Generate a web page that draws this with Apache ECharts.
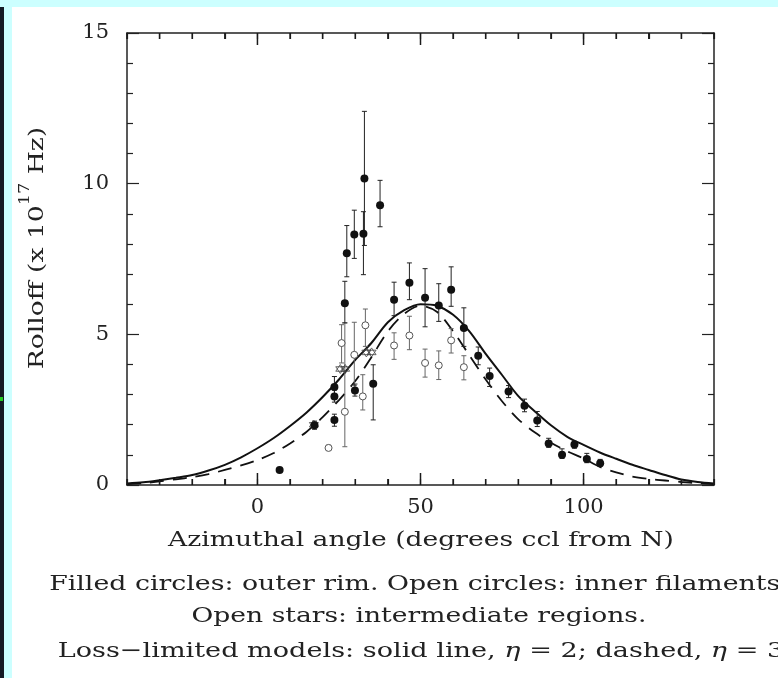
<!DOCTYPE html>
<html><head><meta charset="utf-8">
<script src="https://cdn.jsdelivr.net/npm/echarts@6/dist/echarts.min.js"></script>
<style>html,body{margin:0;padding:0;background:#fff}#c{width:778px;height:678px}</style>
</head><body><div id="c"></div>
<script>
// ---------- data ----------
const xMajorTicks = [0, 50, 100];
const xMinorTicks = [-40,-30,-20,-10,0,10,20,30,40,50,60,70,80,90,100,110,120,130,140];
const yTickLabels = [0, 5, 10, 15];

const modelX  = [-40,-35,-30,-25,-20,-15,-10,-5,0,5,10,15,20,25,30,35,40,45,50,55,60,65,70,75,80,85,90,95,100,105,110,115,120,125,130,135,140];
const solidY  = [0.05,0.09,0.16,0.24,0.33,0.48,0.67,0.92,1.22,1.56,1.96,2.40,2.92,3.50,4.15,4.72,5.40,5.80,6.00,5.95,5.65,5.10,4.35,3.65,2.95,2.45,1.98,1.60,1.33,1.08,0.87,0.67,0.50,0.33,0.18,0.10,0.05];
const dashedY = [0.03,0.06,0.12,0.19,0.26,0.36,0.50,0.65,0.83,1.06,1.38,1.76,2.25,2.82,3.45,4.25,5.10,5.68,5.95,5.75,5.10,4.30,3.50,2.78,2.18,1.75,1.40,1.12,0.88,0.60,0.42,0.28,0.20,0.15,0.10,0.06,0.03];

const filledX  = [6.8,17.5,23.6,23.6,23.6,26.8,27.4,29.7,29.9,32.5,32.8,35.5,37.6,41.9,46.6,51.4,55.6,59.4,63.3,67.7,71.2,77.0,81.9,85.8,89.3,93.4,97.2,101.0,105.1];
const filledY  = [0.50,1.98,2.16,2.94,3.25,6.03,7.69,8.31,3.14,8.34,10.17,3.36,9.28,6.15,6.71,6.21,5.96,6.48,5.21,4.29,3.62,3.10,2.63,2.14,1.38,1.00,1.34,0.86,0.72];
const filledLo = [0.50,1.85,1.95,2.75,2.95,5.38,6.91,7.52,2.95,6.98,7.95,2.16,8.57,5.62,6.15,5.25,5.43,5.93,4.60,3.99,3.27,2.90,2.43,1.94,1.25,0.88,1.22,0.74,0.62];
const filledHi = [0.50,2.12,2.35,3.15,3.60,6.76,8.61,9.12,3.35,9.07,12.40,3.99,10.11,6.73,7.37,7.18,6.68,7.24,5.88,4.58,3.88,3.30,2.85,2.44,1.55,1.20,1.45,1.05,0.85];

const openX  = [21.8,25.8,26.8,29.7,32.3,33.1,41.9,46.6,51.4,55.6,59.4,63.3];
const openY  = [1.23,4.71,2.43,4.32,2.94,5.30,4.63,4.96,4.05,3.97,4.80,3.91];
const openLo = [1.15,4.05,1.27,3.30,2.49,4.60,4.17,4.49,3.58,3.50,4.38,3.49];
const openHi = [1.32,5.32,5.38,5.40,3.66,5.84,5.05,5.60,4.51,4.45,5.19,4.29];

const starX = [17.3,25.4,26.9,33.4,35.0];
const starY = [2.00,3.85,3.85,4.40,4.40];

const xTitle = 'Azimuthal angle (degrees ccl from N)';
const captions = [
  'Filled circles: outer rim. Open circles: inner filaments.',
  'Open stars: intermediate regions.'
];

// ---------- chart ----------
const FONT = 'DejaVu Serif';
const AX = '#222';
const SX = 1.265;
const Y_MIN = 0, Y_MAX = 15;
const zip = (a, b) => a.map((v, i) => [v, b[i]]);
const zip3 = (a, b, c) => a.map((v, i) => [v, b[i], c[i]]);

function errBar(color) {
  return function (params, api) {
    const x = api.value(0), lo = api.value(1), hi = api.value(2);
    if (hi - lo <= 0) return null;
    const a = api.coord([x, hi]), b = api.coord([x, lo]);
    const w = 2.5;
    const st = { stroke: color, lineWidth: 1 };
    return { type: 'group', children: [
      { type: 'line', shape: { x1: a[0], y1: a[1], x2: b[0], y2: b[1] }, style: st },
      { type: 'line', shape: { x1: a[0]-w, y1: a[1], x2: a[0]+w, y2: a[1] }, style: st },
      { type: 'line', shape: { x1: b[0]-w, y1: b[1], x2: b[0]+w, y2: b[1] }, style: st }
    ]};
  };
}

// x tick marks as small rectangular scatter symbols sitting on the bottom and top axes
const tickPts = [];
xMinorTicks.forEach(function (v) {
  const major = xMajorTicks.indexOf(v) >= 0;
  const len = major ? 12 : 6;
  tickPts.push({ value: [v, Y_MIN], symbolSize: [1.5, len], symbolOffset: [0, -len / 2] });
  tickPts.push({ value: [v, Y_MAX], symbolSize: [1.5, len], symbolOffset: [0, len / 2] });
});

const lineSt = { color: AX, width: 1.5 };
function xAx(pos, showLabel) {
  return {
    type: 'value', min: -40, max: 140, interval: 10, position: pos,
    axisLine: { show: true, onZero: false, lineStyle: lineSt },
    axisTick: { show: true, inside: true, length: 6, lineStyle: { color: AX, width: 1.2 } },
    axisLabel: { show: showLabel, fontFamily: FONT, fontSize: 21, color: AX, margin: 12,
      formatter: v => (xMajorTicks.indexOf(v) >= 0 ? String(v) : '') },
    splitLine: { show: false }
  };
}
function yAx(pos, showLabel) {
  return {
    type: 'value', min: Y_MIN, max: Y_MAX, interval: 5, position: pos,
    axisLine: { show: true, onZero: false, lineStyle: lineSt },
    axisTick: { show: true, inside: true, length: 12, lineStyle: { color: AX, width: 1.2 } },
    minorTick: { show: true, splitNumber: 5, length: 6, lineStyle: { color: AX, width: 1.2 } },
    axisLabel: { show: showLabel, fontFamily: FONT, fontSize: 21, color: AX, margin: 18,
      formatter: v => (yTickLabels.indexOf(v) >= 0 ? String(v) : '') },
    splitLine: { show: false }
  };
}

const starPath = 'path://M0,-10L8.66,5L-8.66,5Z M0,10L8.66,-5L-8.66,-5Z';

function caption(y, sx, cx, style) {
  return { type: 'text', x: cx, y: y, scaleX: sx, silent: true,
    style: Object.assign({ align: 'center', verticalAlign: 'middle', fill: AX, font: '21px "DejaVu Serif"' }, style) };
}

const chart = echarts.init(document.getElementById('c'), null, { renderer: 'canvas' });
chart.setOption({
  animation: false,
  backgroundColor: '#fff',
  grid: { left: 127, right: 64, top: 33, bottom: 193 },
  xAxis: [ xAx('bottom', true), xAx('top', false) ],
  yAxis: [ yAx('left', true), yAx('right', false) ],
  series: [
    { type: 'scatter', data: tickPts, symbol: 'rect', clip: false, silent: true,
      itemStyle: { color: '#1a1a1a', opacity: 1 }, z: 6 },
    { type: 'line', data: zip(modelX, solidY), showSymbol: false, smooth: 0.3,
      lineStyle: { color: '#111', width: 2 }, z: 2 },
    { type: 'line', data: zip(modelX, dashedY), showSymbol: false, smooth: 0.3,
      lineStyle: { color: '#111', width: 1.8, type: [14, 9] }, z: 2 },
    { type: 'custom', renderItem: errBar('#666'), data: zip3(openX, openLo, openHi),
      encode: { x: 0, y: [1, 2] }, z: 3 },
    { type: 'custom', renderItem: errBar('#222'), data: zip3(filledX, filledLo, filledHi),
      encode: { x: 0, y: [1, 2] }, z: 3 },
    { type: 'scatter', data: zip(openX, openY), symbol: 'circle', symbolSize: 7,
      itemStyle: { color: '#fff', borderColor: '#555', borderWidth: 1, opacity: 1 }, z: 4 },
    { type: 'scatter', data: zip(starX, starY), symbol: starPath, symbolSize: 9,
      itemStyle: { color: 'rgba(0,0,0,0)', borderColor: '#444', borderWidth: 1 }, z: 4 },
    { type: 'scatter', data: zip(filledX, filledY), symbol: 'circle', symbolSize: 8,
      itemStyle: { color: '#111', opacity: 1 }, z: 5 }
  ],
  graphic: [
    { type: 'rect', shape: { x: 0, y: 0, width: 778, height: 7 }, style: { fill: '#ccffff' }, silent: true },
    { type: 'rect', shape: { x: 0, y: 7, width: 4, height: 671 }, style: { fill: '#141a24' }, silent: true },
    { type: 'rect', shape: { x: 4, y: 7, width: 8, height: 671 }, style: { fill: '#ccffff' }, silent: true },
    { type: 'rect', shape: { x: 0, y: 397, width: 3, height: 4 }, style: { fill: '#22cc22' }, silent: true },
    { type: 'text', x: 33, y: 248, rotation: Math.PI / 2, scaleX: SX, silent: true,
      style: { text: '{a|Rolloff (x 10}{s|17}{a| Hz)}', align: 'center', verticalAlign: 'middle', fill: AX,
        rich: { a: { fontFamily: FONT, fontSize: 21, fill: AX, lineHeight: 30, verticalAlign: 'bottom' },
                s: { fontFamily: FONT, fontSize: 14, fill: AX, lineHeight: 30, verticalAlign: 'top' } } } },
    { type: 'text', x: 421, y: 541, scaleX: SX, silent: true,
      style: { text: xTitle, font: '21px "DejaVu Serif"', fill: AX, align: 'center', verticalAlign: 'middle' } },
    caption(585, 1.275, 419, { text: captions[0] }),
    caption(617, 1.265, 419, { text: captions[1] }),
    caption(652, 1.29, 421, { text: '{a|Loss\u2212limited models: solid line, }{i|\u03b7}{a| = 2; dashed, }{i|\u03b7}{a| = 3}',
        rich: { a: { fontFamily: FONT, fontSize: 21, fill: AX }, i: { fontFamily: FONT, fontSize: 21, fontStyle: 'italic', fill: AX } } })
  ]
});
</script>
</body></html>
